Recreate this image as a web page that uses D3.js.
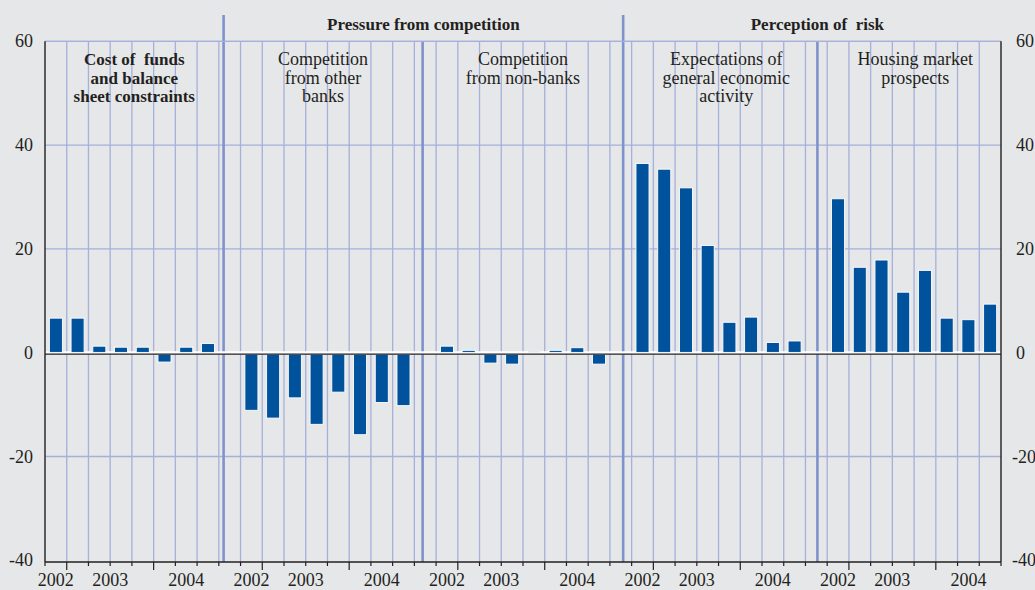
<!DOCTYPE html>
<html>
<head>
<meta charset="utf-8">
<script src="https://cdn.jsdelivr.net/npm/d3@7"></script>
<style>
  html, body { margin: 0; padding: 0; background: #e6e7e9; }
  svg { display: block; }
  text { font-family: "Liberation Serif", "DejaVu Serif", serif; fill: #231f20; white-space: pre; }
</style>
</head>
<body>
<div id="root"></div>
<script>
const width = 1035;
const height = 590;

// panel titles (one per block of eight quarters)
const panelTitles = [
    ['Cost of  funds', 'and balance', 'sheet constraints'],
    ['Competition', 'from other', 'banks'],
    ['Competition', 'from non-banks'],
    ['Expectations of', 'general economic', 'activity'],
    ['Housing market', 'prospects']
];
const groupTitles = ['Pressure from competition', 'Perception of  risk'];

// quarters shown in every panel: 2002 Q4 .. 2004 Q3
const quarters = ['2002Q4', '2003Q1', '2003Q2', '2003Q3', '2003Q4', '2004Q1', '2004Q2', '2004Q3'];
const yearLabels = ['2002', '2003', '2004'];

// net percentages per panel
const costOfFunds = [6.6, 6.6, 1.2, 1.0, 1.0, -1.8, 1.0, 1.7];
const otherBanks = [-11.1, -12.6, -8.7, -13.8, -7.6, -15.8, -9.6, -10.2];
const nonBanks = [1.2, 0.4, -2.0, -2.2, 0.2, 0.4, 0.9, -2.2];
const economicActivity = [36.4, 35.3, 31.7, 20.6, 5.8, 6.8, 1.9, 2.2];
const housingProspects = [29.6, 16.4, 17.8, 11.6, 15.8, 6.6, 6.3, 9.3];
const series = [costOfFunds, otherBanks, nonBanks, economicActivity, housingProspects];

const yTicks = [60, 40, 20, 0, -20, -40];

const left = 45, right = 1001;
const slotsPerPanel = 9; // 8 bars + 1 gap
const nSlots = series.length * slotsPerPanel - 1;
// where the panel divider sits inside the gap slot
const dividerPos = [0.22, 0.38, 0.61, 0.55];
const titleShift = [0, 0, 0, 6, 6];

const gridColor = '#a6b0d9';
const dividerColor = '#7f93cb';
const barColor = '#00529c';

const svg = d3.select('#root')
    .append('svg')
    .attr('width', width)
    .attr('height', height);

const y = d3.scaleLinear().domain([-40, 60]).range([560.3, 41.3]);
const yAxisBottom = 562;
const xs = d3.scaleLinear().domain([0, nSlots]).range([left, right]);
const xb = d3.scaleBand()
    .domain(d3.range(nSlots))
    .range([left, right])
    .paddingInner(0.4)
    .paddingOuter(0.2);
const step = xb.step();

const bars = [];
series.forEach((s, p) => s.forEach((v, q) => bars.push({slot: p * slotsPerPanel + q, value: v})));

// horizontal grid
svg.append('g')
    .selectAll('line')
    .data(yTicks.filter(d => d !== 0 && d !== -40))
    .join('line')
    .attr('x1', left).attr('x2', right)
    .attr('y1', d => y(d)).attr('y2', d => y(d))
    .attr('stroke', gridColor)
    .attr('stroke-width', 1.3);

// vertical grid
svg.append('g')
    .selectAll('line')
    .data(d3.range(1, nSlots))
    .join('line')
    .attr('x1', d => xs(d)).attr('x2', d => xs(d))
    .attr('y1', y(60)).attr('y2', yAxisBottom)
    .attr('stroke', gridColor)
    .attr('stroke-width', 1.3);

// panel dividers
const dividers = dividerPos.map((f, i) => ({
    x: xs((i + 1) * slotsPerPanel - 1) + f * step,
    tall: i === 0 || i === 2
}));
svg.append('g')
    .selectAll('line')
    .data(dividers)
    .join('line')
    .attr('x1', d => d.x).attr('x2', d => d.x)
    .attr('y1', d => d.tall ? 15 : y(60))
    .attr('y2', yAxisBottom)
    .attr('stroke', dividerColor)
    .attr('stroke-width', 2.6);

// white halo along zero
svg.append('line')
    .attr('x1', left).attr('x2', right)
    .attr('y1', y(0)).attr('y2', y(0))
    .attr('stroke', '#ffffff').attr('stroke-width', 3);

// bars
svg.append('g')
    .selectAll('rect')
    .data(bars)
    .join('rect')
    .attr('x', d => xb(d.slot))
    .attr('width', xb.bandwidth())
    .attr('y', d => d.value >= 0 ? y(d.value) - 0.3 : y(0) + 1.5)
    .attr('height', d => d.value >= 0
        ? Math.max(1.2, y(0) - y(d.value))
        : Math.max(1.2, y(d.value) - y(0) - 1.5))
    .attr('fill', barColor)
    .attr('stroke', '#ffffff')
    .attr('stroke-width', 0.9);

// zero line
svg.append('line')
    .attr('x1', left).attr('x2', right)
    .attr('y1', y(0) + 1.4).attr('y2', y(0) + 1.4)
    .attr('stroke', '#231f20').attr('stroke-width', 1.3);

// frame: left/right axes, top grid line, bottom axis
svg.append('line')
    .attr('x1', left).attr('x2', right)
    .attr('y1', y(60)).attr('y2', y(60))
    .attr('stroke', gridColor).attr('stroke-width', 1.3);
[left, right].forEach(xv => {
    svg.append('line')
        .attr('x1', xv).attr('x2', xv)
        .attr('y1', y(60)).attr('y2', yAxisBottom)
        .attr('stroke', '#231f20').attr('stroke-width', 1.4);
});
svg.append('line')
    .attr('x1', left).attr('x2', right)
    .attr('y1', yAxisBottom).attr('y2', yAxisBottom)
    .attr('stroke', '#231f20').attr('stroke-width', 1.3);

// bottom ticks, longer at year boundaries
const yearStart = d => {
    const q = d % slotsPerPanel;
    return q === 1 || q === 5;
};
svg.append('g')
    .selectAll('line')
    .data(d3.range(0, nSlots + 1))
    .join('line')
    .attr('x1', d => xs(d)).attr('x2', d => xs(d))
    .attr('y1', yAxisBottom).attr('y2', d => yAxisBottom + (yearStart(d) ? 8 : 4))
    .attr('stroke', '#231f20')
    .attr('stroke-width', 1.2);

// year labels: centre of each year's quarters within the panel
const yearGroups = [];
series.forEach((s, p) => {
    yearLabels.forEach(yr => {
        const idx = quarters.map((q, i) => q.startsWith(yr) ? i : -1).filter(i => i >= 0);
        const a = p * slotsPerPanel + d3.min(idx);
        const b = p * slotsPerPanel + d3.max(idx) + 1;
        yearGroups.push({label: yr, x: (xs(a) + xs(b)) / 2});
    });
});
svg.append('g')
    .selectAll('text')
    .data(yearGroups)
    .join('text')
    .attr('x', d => d.x)
    .attr('y', 586)
    .attr('text-anchor', 'middle')
    .attr('font-size', 18)
    .text(d => d.label);

// y labels on both sides
svg.append('g')
    .selectAll('text')
    .data(yTicks)
    .join('text')
    .attr('x', 33)
    .attr('y', d => y(d) + 6)
    .attr('text-anchor', 'end')
    .attr('font-size', 18)
    .text(d => d);
svg.append('g')
    .selectAll('text')
    .data(yTicks)
    .join('text')
    .attr('x', d => d < 0 ? 1012 : 1016)
    .attr('y', d => y(d) + 6)
    .attr('text-anchor', 'start')
    .attr('font-size', 18)
    .text(d => d);

// panel titles
const panelEdges = [left, ...dividers.map(d => d.x), right];
panelTitles.forEach((lines, p) => {
    const cx = (panelEdges[p] + panelEdges[p + 1]) / 2 + titleShift[p];
    svg.append('text')
        .attr('x', cx)
        .attr('text-anchor', 'middle')
        .attr('font-size', p === 0 ? 17 : 18)
        .attr('font-weight', p === 0 ? 'bold' : 'normal')
        .selectAll('tspan')
        .data(lines)
        .join('tspan')
        .attr('x', cx)
        .attr('y', (d, i) => 65 + i * 18.5)
        .text(d => d);
});

// group titles above the frame
const groupCentres = [(dividers[0].x + dividers[2].x) / 2, dividers[3].x];
svg.append('g')
    .selectAll('text')
    .data(groupTitles)
    .join('text')
    .attr('x', (d, i) => groupCentres[i])
    .attr('y', 30)
    .attr('text-anchor', 'middle')
    .attr('font-size', 17)
    .attr('font-weight', 'bold')
    .text(d => d);
</script>
</body>
</html>
